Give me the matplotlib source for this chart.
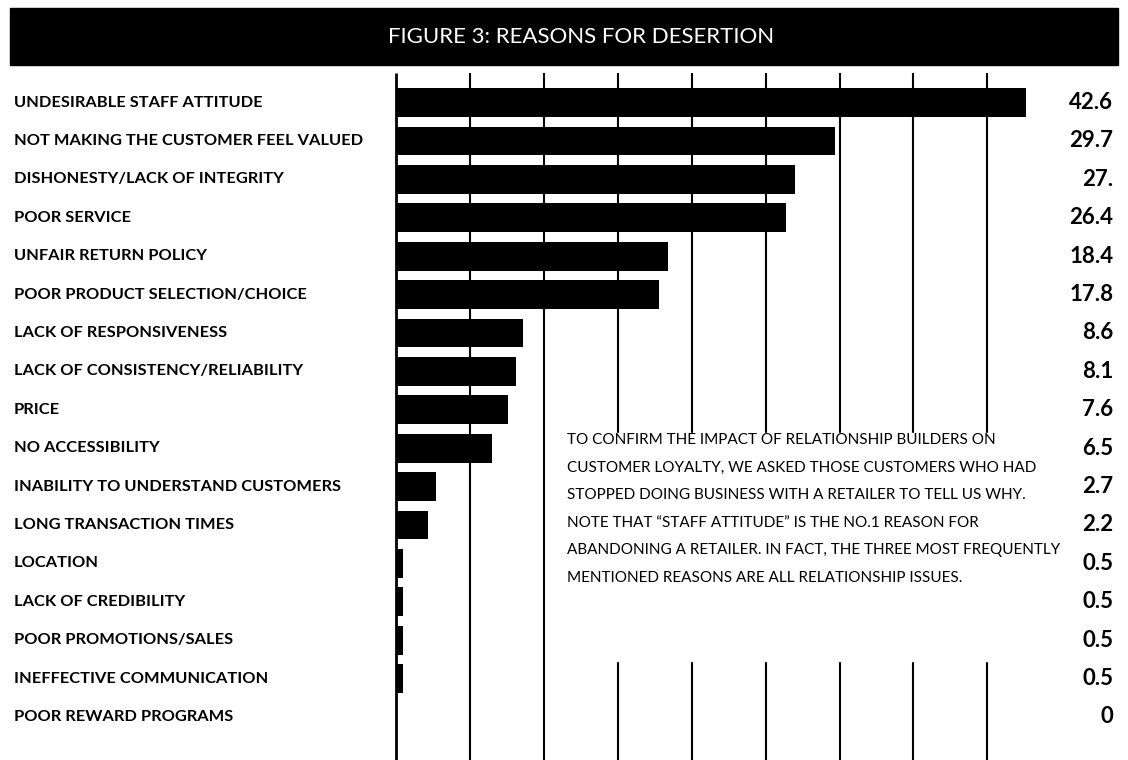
import matplotlib
matplotlib.use("Agg")
import matplotlib.pyplot as plt
from matplotlib.patches import Rectangle

reasons = [
    "UNDESIRABLE STAFF ATTITUDE",
    "NOT MAKING THE CUSTOMER FEEL VALUED",
    "DISHONESTY/LACK OF INTEGRITY",
    "POOR SERVICE",
    "UNFAIR RETURN POLICY",
    "POOR PRODUCT SELECTION/CHOICE",
    "LACK OF RESPONSIVENESS",
    "LACK OF CONSISTENCY/RELIABILITY",
    "PRICE",
    "NO ACCESSIBILITY",
    "INABILITY TO UNDERSTAND CUSTOMERS",
    "LONG TRANSACTION TIMES",
    "LOCATION",
    "LACK OF CREDIBILITY",
    "POOR PROMOTIONS/SALES",
    "INEFFECTIVE COMMUNICATION",
    "POOR REWARD PROGRAMS",
]
percent = [42.6, 29.7, 27.0, 26.4, 18.4, 17.8, 8.6, 8.1, 7.6, 6.5,
           2.7, 2.2, 0.5, 0.5, 0.5, 0.5, 0.0]
value_labels = ["42.6", "29.7", "27.", "26.4", "18.4", "17.8", "8.6", "8.1",
                "7.6", "6.5", "2.7", "2.2", "0.5", "0.5", "0.5", "0.5", "0"]
grid_ticks = [5, 10, 15, 20, 25, 30, 35, 40]

note_lines = [
    "TO CONFIRM THE IMPACT OF RELATIONSHIP BUILDERS ON",
    "CUSTOMER LOYALTY, WE ASKED THOSE CUSTOMERS WHO HAD",
    "STOPPED DOING BUSINESS WITH A RETAILER TO TELL US WHY.",
    "NOTE THAT \u201cSTAFF ATTITUDE\u201d IS THE NO.1 REASON FOR",
    "ABANDONING A RETAILER. IN FACT, THE THREE MOST FREQUENTLY",
    "MENTIONED REASONS ARE ALL RELATIONSHIP ISSUES.",
]

W, H = 1128, 760
fig = plt.figure(figsize=(W / 100, H / 100), dpi=100)
ax = fig.add_axes([0, 0, 1, 1])
ax.axis("off")

# one data unit along x is ~14.8 px, rows are ~38.4 px apart
ax.set_xlim(-26.75, 49.5)
ax.set_ylim(17.12, -2.67)

font = ["Lato", "DejaVu Sans"]

# header band
fig.patches.append(Rectangle((10 / W, 1 - 65 / H), 1108 / W, 57 / H,
                             transform=fig.transFigure, color="black"))
fig.text(581 / W, 1 - 37 / H, "FIGURE 3: REASONS FOR DESERTION",
         color="white", fontsize=16, family=font,
         ha="center", va="center")

# axis line and grid
ax.vlines(0, -0.77, 17.12, color="black", lw=2, zorder=1)
ax.vlines(grid_ticks, -0.77, 17.12, color="black", lw=1.5, zorder=1)

ys = list(range(len(reasons)))
ax.barh(ys, percent, height=0.75, left=0, color="black", zorder=3)

for y, name, lab in zip(ys, reasons, value_labels):
    ax.text(-25.8, y, name, fontsize=11.8, fontweight="bold", family=font,
            ha="left", va="center")
    ax.text(48.5, y, lab, fontsize=16, fontweight="bold", family=font,
            ha="right", va="center")

# white panel holding the note, covering the grid behind it
ax.add_patch(Rectangle((11.0, 8.6), 30.0, 5.95, color="white", zorder=2))
for k, line in enumerate(note_lines):
    ax.text(11.6, 8.79 + k * 0.716, line, fontsize=11, family=font,
            ha="left", va="center", zorder=4)

fig.savefig("out.png", dpi=100)
